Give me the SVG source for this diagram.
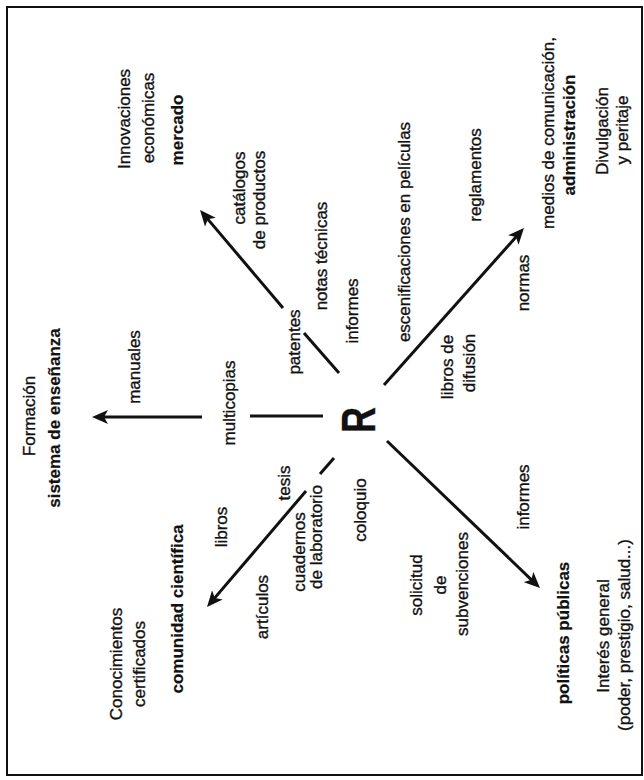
<svg xmlns="http://www.w3.org/2000/svg" width="644" height="780" viewBox="0 0 644 780">
<style>
text{font-family:"Liberation Sans",Arial,sans-serif;font-size:17px;fill:#111;stroke:#111;stroke-width:0.35;text-anchor:middle}
.b{font-weight:bold;stroke-width:0.2}
.R{font-weight:bold;font-size:48px}
.ln{stroke:#111;stroke-width:3;fill:none}
.ar{marker-end:url(#ah)}
</style>
<defs>
<marker id="ah" markerUnits="userSpaceOnUse" viewBox="0 0 16 14" refX="6" refY="7" markerWidth="16" markerHeight="14" orient="auto">
<path d="M0,0 L16,7 L0,14 L4,7 Z" fill="#111"/>
</marker>
</defs>
<rect x="7" y="7" width="635" height="768" fill="none" stroke="#111" stroke-width="2"/>
<g id="connectors">
<line class="ln ar" x1="202" y1="417" x2="102" y2="417"/>
<line class="ln" x1="323" y1="416" x2="250" y2="416"/>
<line class="ln ar" x1="283" y1="308" x2="206.5" y2="217.6"/>
<line class="ln" x1="339" y1="373" x2="304" y2="333"/>
<line class="ln ar" x1="384" y1="385" x2="517.3" y2="235.5"/>
<line class="ln" x1="334" y1="458" x2="320" y2="474"/>
<line class="ln ar" x1="306" y1="491" x2="213.5" y2="599.4"/>
<line class="ln ar" x1="387" y1="441" x2="532.8" y2="581.1"/>
</g>
<g id="R"><text class="R" transform="translate(375,420) rotate(-90)" textLength="26" lengthAdjust="spacingAndGlyphs">R</text></g>
<g id="mercado">
<text transform="translate(130,119) rotate(-90)">Innovaciones</text>
<text transform="translate(154,118) rotate(-90)">económicas</text>
<text class="b" transform="translate(183,130) rotate(-90)">mercado</text>
</g>
<g id="administracion">
<text transform="translate(554,133) rotate(-90)">medios de comunicación,</text>
<text class="b" transform="translate(575,135) rotate(-90)">administración</text>
<text transform="translate(608,131) rotate(-90)">Divulgación</text>
<text transform="translate(628,130) rotate(-90)">y peritaje</text>
</g>
<g id="ensenanza">
<text transform="translate(35,416) rotate(-90)">Formación</text>
<text class="b" transform="translate(60,418) rotate(-90)">sistema de enseñanza</text>
</g>
<g id="comunidad">
<text transform="translate(122,664) rotate(-90)">Conocimientos</text>
<text transform="translate(145,664) rotate(-90)">certificados</text>
<text class="b" transform="translate(183,609) rotate(-90)">comunidad científica</text>
</g>
<g id="politicas">
<text class="b" transform="translate(569,633) rotate(-90)">políticas públicas</text>
<text transform="translate(609,636) rotate(-90)">Interés general</text>
<text transform="translate(630,635) rotate(-90)">(poder, prestigio, salud...)</text>
</g>
<g id="labels">
<text transform="translate(245,188) rotate(-90)">catálogos</text>
<text transform="translate(265,200) rotate(-90)">de productos</text>
<text transform="translate(327,256) rotate(-90)">notas técnicas</text>
<text transform="translate(358,311) rotate(-90)">informes</text>
<text transform="translate(410,232) rotate(-90)">escenificaciones en películas</text>
<text transform="translate(481,175) rotate(-90)">reglamentos</text>
<text transform="translate(529,283) rotate(-90)">normas</text>
<text transform="translate(453,367) rotate(-90)">libros de</text>
<text transform="translate(475,363) rotate(-90)">difusión</text>
<text transform="translate(300,342) rotate(-90)">patentes</text>
<text transform="translate(140,367) rotate(-90)">manuales</text>
<text transform="translate(235,403) rotate(-90)">multicopias</text>
<text transform="translate(290,483) rotate(-90)">tesis</text>
<text transform="translate(227,527) rotate(-90)">libros</text>
<text transform="translate(305,552) rotate(-90)">cuadernos</text>
<text transform="translate(322,537) rotate(-90)">de laboratorio</text>
<text transform="translate(366,510) rotate(-90)">coloquio</text>
<text transform="translate(529,497) rotate(-90)">informes</text>
<text transform="translate(268,607) rotate(-90)">artículos</text>
<text transform="translate(422,585) rotate(-90)">solicitud</text>
<text transform="translate(446,585) rotate(-90)">de</text>
<text transform="translate(468,584) rotate(-90)">subvenciones</text>
</g>
</svg>
